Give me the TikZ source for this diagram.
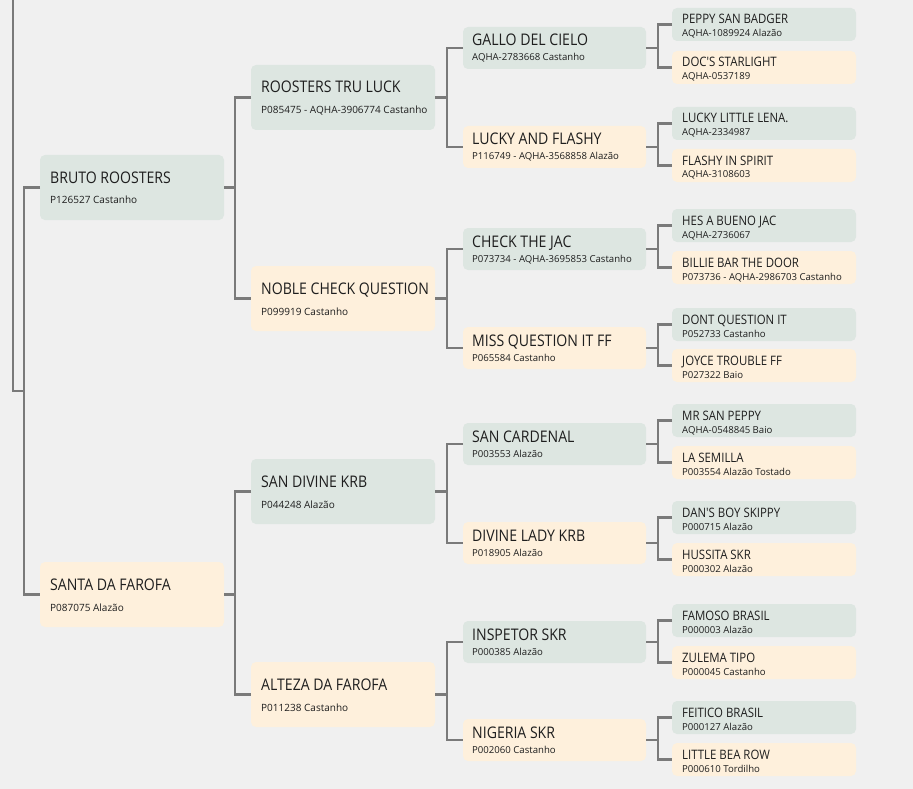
\documentclass[tikz,border=0pt]{standalone}
\usepackage{fontspec}
\setmainfont{Open Sans}
\newfontfamily\nomefont[FakeStretch=0.88]{Open Sans}
\usepackage{tikz}
\usetikzlibrary{positioning,calc}
\definecolor{fundo}{HTML}{F0F0F0}
\definecolor{macho}{HTML}{DDE6E1}
\definecolor{femea}{HTML}{FEF0DC}
\definecolor{linha}{HTML}{7A7A7A}
\definecolor{texto}{HTML}{1E1E1E}
\tikzset{
  caixa/.style={rounded corners=5pt, inner sep=0pt, outer sep=0pt, anchor=north west},
  cxA/.style={caixa, minimum width=184pt, minimum height=65pt},
  cxC/.style={caixa, minimum width=183pt, minimum height=42pt},
  cxD/.style={caixa, minimum width=184pt, minimum height=33pt},
  rotulo/.style={anchor=base west, inner sep=0pt, text=texto},
  nomeA/.style={rotulo, font=\nomefont\fontsize{16}{19}\selectfont},
  subA/.style={rotulo, font=\fontsize{10}{12}\selectfont},
  nomeD/.style={rotulo, font=\nomefont\fontsize{13}{16}\selectfont},
  subD/.style={rotulo, font=\fontsize{9.6}{11}\selectfont},
  liga/.style={draw=linha, line width=2.5pt},
}

\begin{document}
\begin{tikzpicture}[x=1pt,y=-1pt]
\fill[fundo](0,0)rectangle(913,789);
\useasboundingbox(0,0)rectangle(913,789);
% pais e avos
\foreach \id/\x/\y/\col/\nm/\sb in {
  g1a/40/155/macho/BRUTO ROOSTERS/P126527 Castanho,
  g1b/40/562/femea/SANTA DA FAROFA/P087075 Alazão,
  g2a/251/65/macho/ROOSTERS TRU LUCK/P085475 - AQHA-3906774 Castanho,
  g2b/251/266/femea/NOBLE CHECK QUESTION/P099919 Castanho,
  g2c/251/459/macho/SAN DIVINE KRB/P044248 Alazão,
  g2d/251/662/femea/ALTEZA DA FAROFA/P011238 Castanho}{
  \node[cxA,fill=\col](\id) at (\x,\y) {};
  \node[nomeA](\id-n) at ([xshift=10pt,yshift=-28pt]\id.north west) {\nm};
  \node[subA](\id-s) at ([xshift=10pt,yshift=-49pt]\id.north west) {\sb};
}
% bisavos
\foreach \id/\y/\col/\nm/\sb in {
  g3a/27/macho/GALLO DEL CIELO/AQHA-2783668 Castanho,
  g3b/126/femea/LUCKY AND FLASHY/P116749 - AQHA-3568858 Alazão,
  g3c/228/macho/CHECK THE JAC/P073734 - AQHA-3695853 Castanho,
  g3d/327/femea/MISS QUESTION IT FF/P065584 Castanho,
  g3e/423/macho/SAN CARDENAL/P003553 Alazão,
  g3f/522/femea/DIVINE LADY KRB/P018905 Alazão,
  g3g/621/macho/INSPETOR SKR/P000385 Alazão,
  g3h/719/femea/NIGERIA SKR/P002060 Castanho}{
  \node[cxC,fill=\col](\id) at (463,\y) {};
  \node[nomeA](\id-n) at ([xshift=9pt,yshift=-19pt]\id.north west) {\nm};
  \node[subD](\id-s) at ([xshift=9pt,yshift=-34pt]\id.north west) {\sb};
}
% tataravos
\foreach \id/\y/\col/\nm/\sb in {
  g4a/8/macho/PEPPY SAN BADGER/AQHA-1089924 Alazão,
  g4b/51/femea/DOC'S STARLIGHT/AQHA-0537189,
  g4c/107/macho/LUCKY LITTLE LENA./AQHA-2334987,
  g4d/149/femea/FLASHY IN SPIRIT/AQHA-3108603,
  g4e/209/macho/HES A BUENO JAC/AQHA-2736067,
  g4f/251/femea/BILLIE BAR THE DOOR/P073736 - AQHA-2986703 Castanho,
  g4g/308/macho/DONT QUESTION IT/P052733 Castanho,
  g4h/349/femea/JOYCE TROUBLE FF/P027322 Baio,
  g4i/404/macho/MR SAN PEPPY/AQHA-0548845 Baio,
  g4j/446/femea/LA SEMILLA/P003554 Alazão Tostado,
  g4k/501/macho/DAN'S BOY SKIPPY/P000715 Alazão,
  g4l/543/femea/HUSSITA SKR/P000302 Alazão,
  g4m/604/macho/FAMOSO BRASIL/P000003 Alazão,
  g4n/646/femea/ZULEMA TIPO/P000045 Castanho,
  g4o/701/macho/FEITICO BRASIL/P000127 Alazão,
  g4p/743/femea/LITTLE BEA ROW/P000610 Tordilho}{
  \node[cxD,fill=\col](\id) at (672,\y) {};
  \node[nomeD](\id-n) at ([xshift=10pt,yshift=-16pt]\id.north west) {\nm};
  \node[subD](\id-s) at ([xshift=10pt,yshift=-29pt]\id.north west) {\sb};
}
% ligacoes
\coordinate (topo) at (13,0);
\coordinate (meio) at (24,391);
\draw[liga](topo) |- (meio);
\draw[liga](g1a.west) -- ++(-16,0) |- (g1b.west);
\foreach \p/\a/\b in {g1a/g2a/g2b, g1b/g2c/g2d, g2a/g3a/g3b, g2b/g3c/g3d, g2c/g3e/g3f, g2d/g3g/g3h}{
  \draw[liga](\p.east) -- ++(12,0);
  \draw[liga](\a.west) -- ++(-16,0) |- (\b.west);
}
\foreach \p/\a/\b in {g3a/g4a/g4b, g3b/g4c/g4d, g3c/g4e/g4f, g3d/g4g/g4h, g3e/g4i/g4j, g3f/g4k/g4l, g3g/g4m/g4n, g3h/g4o/g4p}{
  \draw[liga](\p.east) -- ++(12,0);
  \draw[liga](\a.west) -- ++(-14,0) |- (\b.west);
}
\end{tikzpicture}
\end{document}
